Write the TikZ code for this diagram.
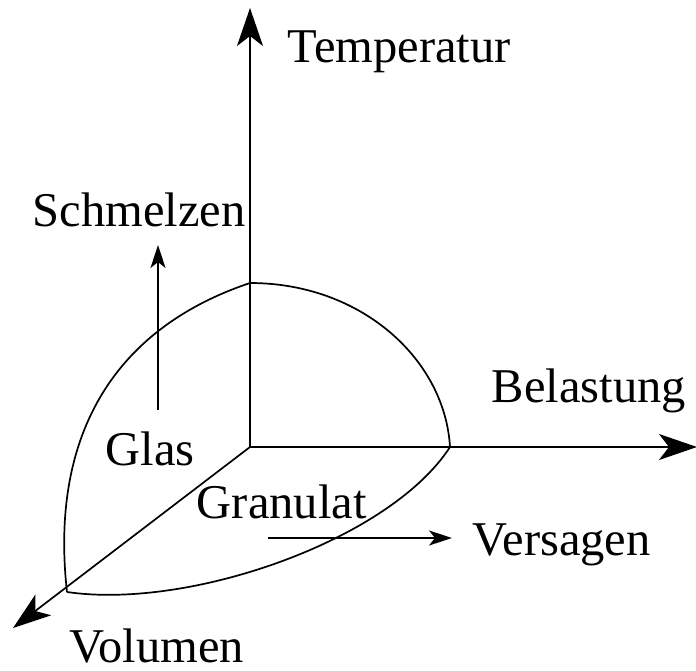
\documentclass[tikz,border=0pt]{standalone}
\usepackage{fontspec}
\setmainfont{Liberation Serif}
\usetikzlibrary{arrows.meta}
\begin{document}
\begin{tikzpicture}[x=1pt,y=-1pt,line width=1.7pt,
  lbl/.style={anchor=base west,inner sep=0pt,font=\fontsize{48.5}{58}\selectfont},
  bigarrow/.style={-{Stealth[length=38pt,width=26pt,inset=10pt]}},
  smallarrow/.style={-{Stealth[length=23pt,width=15pt,inset=6pt]}}]
\useasboundingbox (0,0) rectangle (696,671);
% axes
\coordinate (O) at (250,447);
\coordinate (Tt) at (250,8);
\coordinate (Bt) at (697,447);
\coordinate (Vt) at (13,628);
\draw[bigarrow] (O) -- (Tt);
\draw[bigarrow] (O) -- (Bt);
\draw[bigarrow] (O) -- (Vt);
% surface
\coordinate (P1) at (250,283);
\coordinate (P2) at (450,447);
\coordinate (P3) at (67,592);
\draw (P1) .. controls (362,283) and (445,360) .. (P2);
\draw (P1) .. controls (110,330) and (50,440) .. (P3);
\draw (P3) .. controls (190,610) and (390,540) .. (P2);
% small arrows
\coordinate (S0) at (158,410);
\coordinate (S1) at (158,245);
\draw[smallarrow] (S0) -- (S1);
\coordinate (V0) at (268,538);
\coordinate (V1) at (452,538);
\draw[smallarrow] (V0) -- (V1);
% labels
\node[lbl] (temp) at (287,63) {Temperatur};
\node[lbl] (schm) at (32,227) {Schmelzen};
\node[lbl] (bel) at (491,402) {Belastung};
\node[lbl] (glas) at (105,465) {Glas};
\node[lbl] (gran) at (196,518) {Granulat};
\node[lbl] (vers) at (472,555) {Versagen};
\node[lbl] (vol) at (69,662) {Volumen};
\end{tikzpicture}
\end{document}
